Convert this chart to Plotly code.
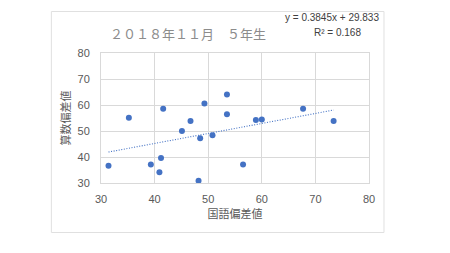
import plotly.graph_objects as go

# Data
kokugo = [31.4, 35.2, 39.3, 40.9, 41.2, 41.6, 45.1, 46.7, 48.2, 48.5, 49.3,
          50.8, 53.5, 53.5, 56.5, 58.9, 60.0, 67.7, 73.4]
sansu = [36.6, 55.1, 37.1, 34.1, 39.6, 58.6, 50.0, 53.8, 30.9, 47.2, 60.6,
         48.4, 64.0, 56.4, 37.1, 54.2, 54.4, 58.6, 53.8]
trend_slope = 0.3845
trend_intercept = 29.833
r_squared = 0.168
title_text = "２０１８年１１月　５年生"
x_title = "国語偏差値"
y_title = "算数偏差値"
x_ticks = [30, 40, 50, 60, 70, 80]
y_ticks = [30, 40, 50, 60, 70, 80]

W, H = 450, 253
L, R, T, B = 100.7, 369.0, 52.7, 183.3
pw, ph = R - L, B - T

def px(x):
    return (x - L) / pw

def py(y):
    return (B - y) / ph

blue = "#4472C4"
grid = "#d9d9d9"
txt = "#595959"
jp = "Noto Sans CJK JP"
num = "Liberation Sans, Arial, sans-serif"

xmin, xmax = min(kokugo), max(kokugo)
tx = [xmin, xmax]
ty = [trend_slope * v + trend_intercept for v in tx]

fig = go.Figure()
fig.add_trace(go.Scatter(x=tx, y=ty, mode="lines",
                         line=dict(color=blue, width=1.1, dash="1px,1.6px"),
                         hoverinfo="skip", showlegend=False))
fig.add_trace(go.Scatter(x=kokugo, y=sansu, mode="markers",
                         marker=dict(color=blue, size=6),
                         showlegend=False))

fig.update_layout(
    width=W, height=H,
    margin=dict(l=L, r=W - R, t=T, b=H - B, pad=0),
    paper_bgcolor="white", plot_bgcolor="white",
    xaxis=dict(range=[30, 80], tickvals=x_ticks, showgrid=True, gridcolor=grid,
               gridwidth=1, zeroline=False, showline=True, linecolor=grid,
               mirror=True, ticks="", tickfont=dict(family=num, size=11, color=txt),
               ticklabelstandoff=6,
               title=dict(text=x_title, font=dict(family=jp, size=11, color=txt),
                          standoff=4)),
    yaxis=dict(range=[30, 80], tickvals=y_ticks, showgrid=True, gridcolor=grid,
               gridwidth=1, zeroline=False, showline=True, linecolor=grid,
               mirror=True, ticks="", tickfont=dict(family=num, size=11, color=txt),
               ticklabelstandoff=8,
               title=dict(text=y_title, font=dict(family=jp, size=11, color=txt),
                          standoff=4)),
    shapes=[dict(type="rect", xref="paper", yref="paper",
                 x0=px(51), x1=px(384), y0=py(233), y1=py(11),
                 line=dict(color="#e0e0e0", width=1), layer="below")],
    annotations=[
        dict(text=title_text, xref="paper", yref="paper", x=px(188), y=py(33),
             xanchor="center", yanchor="middle", showarrow=False,
             font=dict(family=jp, size=13, color="#8c8c8c")),
        dict(text=f"y = {trend_slope}x + {trend_intercept}", xref="paper", yref="paper",
             x=px(381), y=py(17), xanchor="right", yanchor="middle", showarrow=False,
             font=dict(family=num, size=10, color="#404040")),
        dict(text=f"R² = {r_squared}", xref="paper", yref="paper",
             x=px(337), y=py(32), xanchor="center", yanchor="middle", showarrow=False,
             font=dict(family=num, size=10, color="#404040")),
    ],
)

fig.write_html("out.html")
